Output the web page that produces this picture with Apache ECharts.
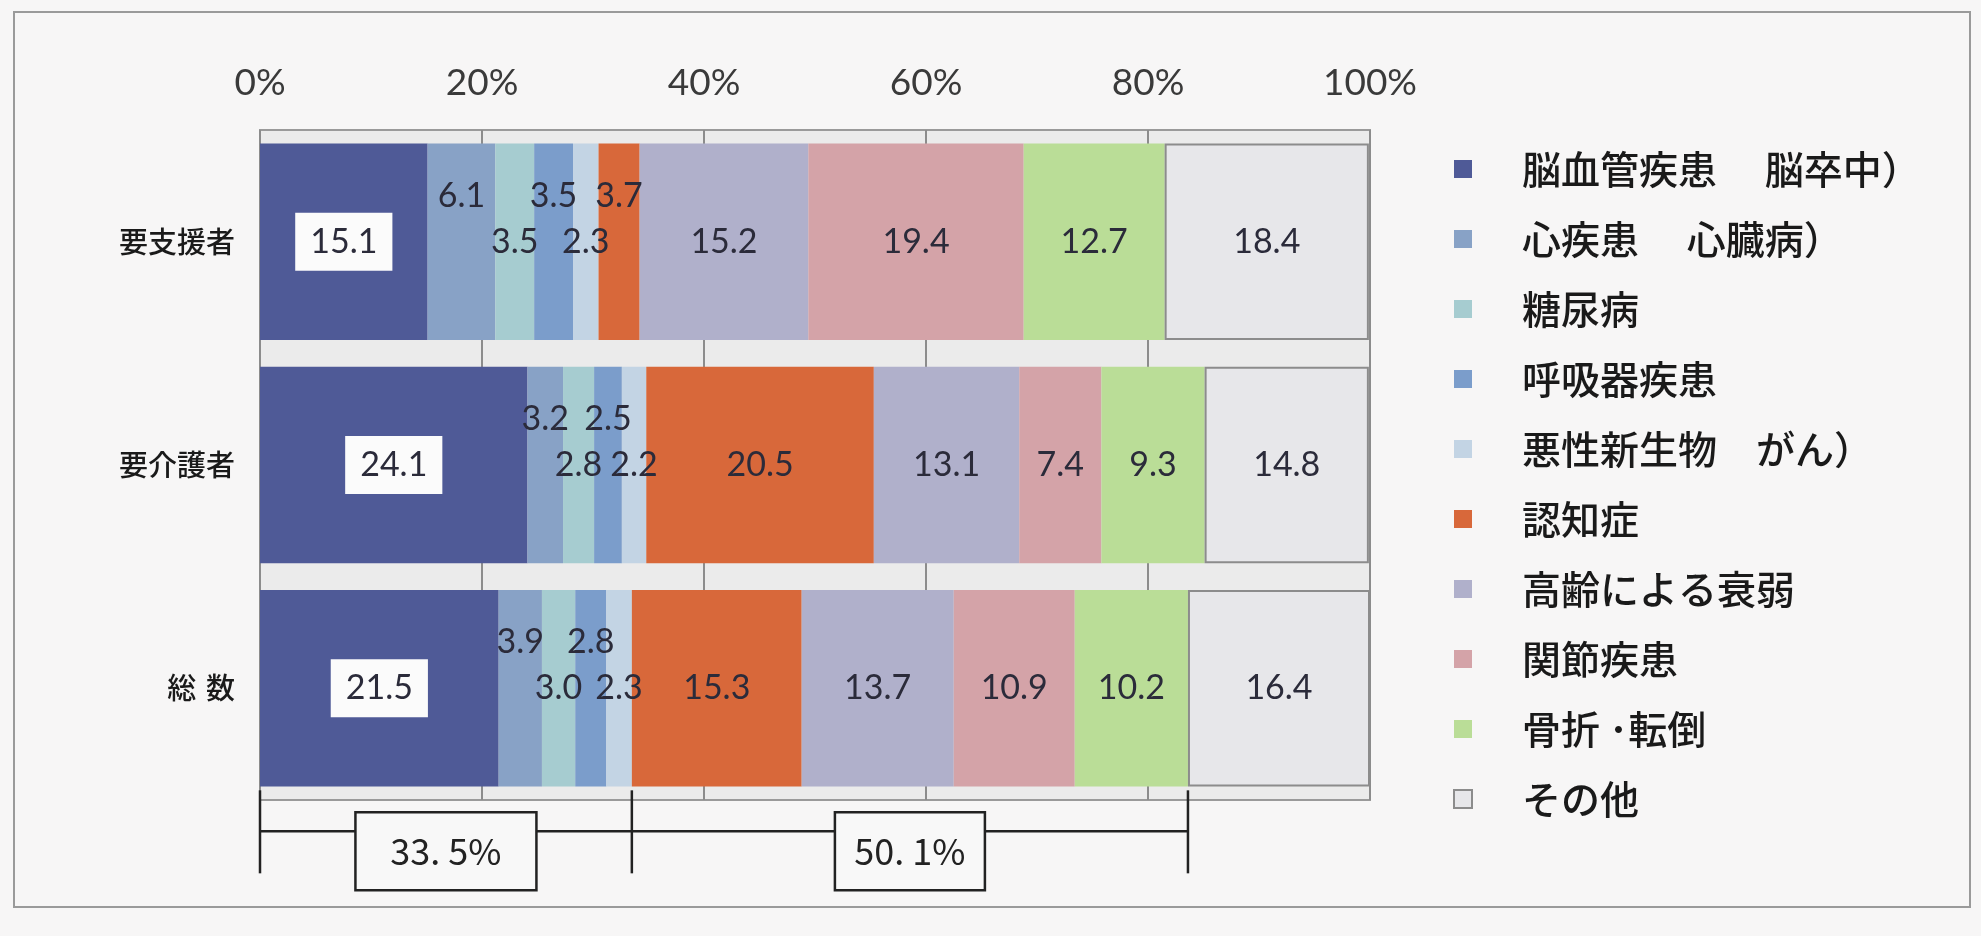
<!DOCTYPE html>
<html>
<head>
<meta charset="utf-8">
<script src="https://cdn.jsdelivr.net/npm/echarts@6/dist/echarts.min.js"></script>
<style>
html,body{margin:0;padding:0;background:#f7f6f6;}
#chart{width:1981px;height:936px;}
</style>
</head>
<body>
<div id="chart"></div>
<script>
// ---- data ----
const categories = ['要支援者', '要介護者', '総\u2004数'];
const seriesNames = [
  '脳血管疾患\u3000 脳卒中）',
  '心疾患\u3000 心臓病）',
  '糖尿病',
  '呼吸器疾患',
  '悪性新生物\u3000がん）',
  '認知症',
  '高齢による衰弱',
  '関節疾患',
  '骨折 ･転倒',
  'その他'
];
const cerebrovascular = [15.1, 24.1, 21.5];
const heart = [6.1, 3.2, 3.9];
const diabetes = [3.5, 2.8, 3.0];
const respiratory = [3.5, 2.5, 2.8];
const cancer = [2.3, 2.2, 2.3];
const dementia = [3.7, 20.5, 15.3];
const frailty = [15.2, 13.1, 13.7];
const joint = [19.4, 7.4, 10.9];
const fracture = [12.7, 9.3, 10.2];
const other = [18.4, 14.8, 16.4];
const xTicks = [0, 20, 40, 60, 80, 100];
// ---------------

const allValues = [cerebrovascular, heart, diabetes, respiratory, cancer, dementia, frailty, joint, fracture, other];
const colors = ['#4f5a97', '#88a2c6', '#a6ccd0', '#7b9dcb', '#c3d4e4', '#d8683a', '#b0b0cb', '#d4a3a8', '#badd97', '#e7e7ea'];
// labels drawn above the bar centre (placement only)
const raised = { 1: [0, 1, 2], 3: [0, 1, 2], 5: [0] };

const chart = echarts.init(document.getElementById('chart'), null, { renderer: 'canvas' });

const series = allValues.map((vals, si) => ({
  name: seriesNames[si],
  type: 'bar',
  stack: 'total',
  barCategoryGap: '12%',
  itemStyle: si === 9 ? { color: colors[si], borderColor: '#8c8c8c', borderWidth: 2 } : { color: colors[si] },
  emphasis: { disabled: true },
  data: vals.map((v, ri) => {
    const lbl = {
      show: true,
      position: 'inside',
      fontFamily: 'Lato',
      fontSize: 34,
      color: '#2b2b3a',
      formatter: (p) => p.value.toFixed(1)
    };
    if (raised[si] && raised[si].indexOf(ri) >= 0) lbl.offset = [0, -46];
    if (si === 0) {
      lbl.backgroundColor = '#fbfbfb';
      lbl.padding = [12, 15];
    }
    return { value: v, label: lbl };
  })
}));

chart.setOption({
  backgroundColor: '#f7f6f6',
  animation: false,
  grid: {
    left: 260, right: 611, top: 130, height: 670,
    show: true, backgroundColor: '#ebebeb', borderColor: '#9a9a9a', borderWidth: 2
  },
  xAxis: {
    type: 'value', position: 'top', min: xTicks[0], max: xTicks[xTicks.length - 1], interval: xTicks[1] - xTicks[0],
    axisLabel: { formatter: '{value}%', fontFamily: 'Lato', fontSize: 37, color: '#3a3a3a', margin: 28 },
    splitLine: { lineStyle: { color: '#8c8c8c', width: 2 } },
    axisLine: { show: false }, axisTick: { show: false }
  },
  yAxis: {
    type: 'category', data: categories, inverse: true,
    axisLabel: { fontFamily: 'Noto Sans CJK JP', fontSize: 29, fontWeight: 500, color: '#1a1a1a', margin: 25 },
    axisLine: { show: false }, axisTick: { show: false }
  },
  legend: {
    orient: 'vertical', left: 1448, top: 144,
    itemWidth: 18, itemHeight: 18, itemGap: 30, icon: 'rect',
    selectedMode: false,
    textStyle: { fontFamily: 'Noto Sans CJK JP', fontSize: 39, fontWeight: 500, lineHeight: 40, color: '#1a1a1a', padding: [0, 0, 0, 45] }
  },
  series: series
});

// bracket annotation under the "総数" bar, positioned through the axes
const row = 2;
const s1 = [0, 1, 2, 3, 4].reduce((a, i) => a + allValues[i][row], 0);
const s2 = [5, 6, 7, 8].reduce((a, i) => a + allValues[i][row], 0);
const x0 = chart.convertToPixel({ xAxisIndex: 0 }, 0);
const x1 = chart.convertToPixel({ xAxisIndex: 0 }, s1);
const x2 = chart.convertToPixel({ xAxisIndex: 0 }, s1 + s2);
const yc = chart.convertToPixel({ yAxisIndex: 0 }, categories[row]);
const lineY = yc + 143;
const fmt = (v) => v.toFixed(1).replace('.', '. ') + '%';
const stroke = { stroke: '#222', lineWidth: 2.5 };
function box(cx, w, txt) {
  return [
    { type: 'rect', shape: { x: cx - w / 2, y: yc + 124, width: w, height: 78 }, style: { fill: '#f8f8f8', stroke: '#222', lineWidth: 2.5 }, z: 10 },
    { type: 'text', x: cx, y: yc + 163, style: { text: txt, fontFamily: 'Noto Sans CJK JP', fontSize: 36, fill: '#222', align: 'center', verticalAlign: 'middle' }, z: 11 }
  ];
}
const g = [
  { type: 'rect', shape: { x: 14, y: 12, width: 1956, height: 895 }, style: { fill: 'none', stroke: '#9a9a9a', lineWidth: 2 }, z: 0 },
  { type: 'line', shape: { x1: x0, y1: yc + 102, x2: x0, y2: yc + 185 }, style: stroke, z: 9 },
  { type: 'line', shape: { x1: x1, y1: yc + 102, x2: x1, y2: yc + 185 }, style: stroke, z: 9 },
  { type: 'line', shape: { x1: x2, y1: yc + 102, x2: x2, y2: yc + 185 }, style: stroke, z: 9 },
  { type: 'line', shape: { x1: x0, y1: lineY, x2: x2, y2: lineY }, style: stroke, z: 9 }
].concat(box((x0 + x1) / 2, 181, fmt(s1)), box((x1 + x2) / 2, 150, fmt(s2)));
chart.setOption({ graphic: g });
</script>
</body>
</html>
